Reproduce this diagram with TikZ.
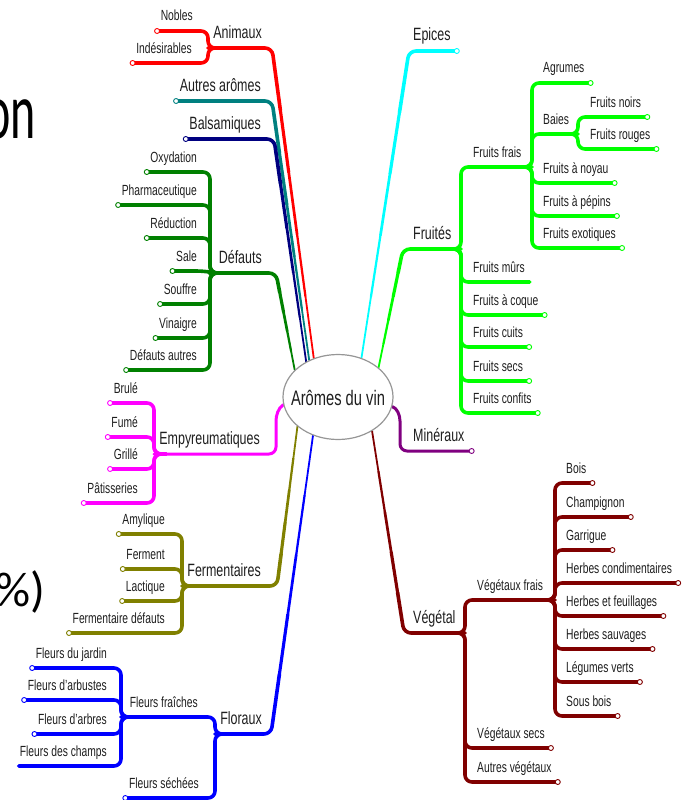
\documentclass[tikz,border=0pt]{standalone}
\usepackage{fontspec}
\setmainfont[FakeStretch=0.7]{Liberation Sans}
\newfontfamily\slidenarrow[FakeStretch=0.6]{Carlito}
\newfontfamily\slidefont{Carlito}
\usetikzlibrary{calc,shapes.geometric}
\pgfdeclarelayer{bg}
\pgfsetlayers{bg,main}

\definecolor{txt}{RGB}{30,30,30}
\definecolor{cRed}{RGB}{255,0,0}
\definecolor{cTeal}{RGB}{0,128,128}
\definecolor{cNavy}{RGB}{0,0,128}
\definecolor{cGreen}{RGB}{0,128,0}
\definecolor{cMag}{RGB}{255,0,255}
\definecolor{cOlive}{RGB}{128,128,0}
\definecolor{cBlue}{RGB}{0,0,255}
\definecolor{cMaroon}{RGB}{128,0,0}
\definecolor{cPurple}{RGB}{128,0,128}
\definecolor{cLime}{RGB}{0,255,0}
\definecolor{cCyan}{RGB}{0,255,255}
\definecolor{cEll}{RGB}{150,150,150}

\tikzset{
  mainlbl/.style={inner sep=0pt, text=txt, font=\fontsize{17.8}{20}\selectfont},
  leaflbl/.style={inner sep=0pt, text=txt, font=\fontsize{14.7}{17}\selectfont},
  knob/.style={circle, fill=white, inner sep=0pt, minimum size=5pt, line width=0.9pt},
  branchline/.style={line width=3.6pt, rounded corners=7pt, line cap=round, line join=round},
}

% left leaf with knob: name, colour, text, right x, line y, spine x, parent y
\newcommand\LLeaf[7]{%
  \node[leaflbl, anchor=base east] (#1) at (#4,{#5-10}) {#3};
  \coordinate (#1-e) at ($(#1.base west)+(-3.5,10)$);
  \begin{pgfonlayer}{bg}
    \draw[branchline, draw=#2] (#1-e) -- (#6,#5) -- (#6,#7) -- ({#6+12},#7);
  \end{pgfonlayer}
  \node[knob, draw=#2] (#1-k) at (#1-e) {};
}
\newcommand\LLeafN[7]{%
  \node[leaflbl, anchor=base east] (#1) at (#4,{#5-10}) {#3};
  \coordinate (#1-e) at ($(#1.base west)+(-1,10)$);
  \begin{pgfonlayer}{bg}
    \draw[branchline, draw=#2] (#1-e) -- (#6,#5) -- (#6,#7) -- ({#6+12},#7);
  \end{pgfonlayer}
}
% right leaf with knob: name, colour, text, left x, line y, spine x, parent y
\newcommand\RLeaf[7]{%
  \node[leaflbl, anchor=base west] (#1) at (#4,{#5-10}) {#3};
  \coordinate (#1-e) at ($(#1.base east)+(6,10)$);
  \begin{pgfonlayer}{bg}
    \draw[branchline, draw=#2] ({#6-12},#7) -- (#6,#7) -- (#6,#5) -- (#1-e);
  \end{pgfonlayer}
  \node[knob, draw=#2] (#1-k) at (#1-e) {};
}
\newcommand\RLeafN[7]{%
  \node[leaflbl, anchor=base west] (#1) at (#4,{#5-10}) {#3};
  \coordinate (#1-e) at ($(#1.base east)+(5,10)$);
  \begin{pgfonlayer}{bg}
    \draw[branchline, draw=#2] ({#6-12},#7) -- (#6,#7) -- (#6,#5) -- (#1-e);
  \end{pgfonlayer}
}
% tapered trunk: colour, start, corner, end
\newcommand\Trunk[4]{%
  \begin{pgfonlayer}{bg}
    \foreach \w/\ta/\tb in {1.8/0/0.2, 2.25/0.2/0.4, 2.7/0.4/0.6, 3.15/0.6/0.8}{
      \draw[draw=#1, line width=\w pt, line cap=round] ($(#2)!\ta!(#3)$) -- ($(#2)!\tb!(#3)$);
    }
    \draw[branchline, draw=#1] ($(#2)!0.8!(#3)$) -- (#3) -- (#4);
  \end{pgfonlayer}
}

\begin{document}
\begin{tikzpicture}[x=1pt, y=-1pt]
\useasboundingbox (0,0) rectangle (685,800);

% fragments of slide text
\node[inner sep=0pt, anchor=base east, font=\slidenarrow\fontsize{80}{90}\selectfont] (frag1) at (36,138) {on};
\node[inner sep=0pt, anchor=base east, font=\slidefont\fontsize{49}{55}\selectfont] (frag2) at (46,606) {\%)};

% centre
\node[ellipse, draw=cEll, fill=white, line width=1.2pt, minimum width=110pt, minimum height=85pt, inner sep=0pt] (c) at (338,397) {};
\node[inner sep=0pt, anchor=base, text=txt, font=\fontsize{21}{24}\selectfont] (ctext) at (c.center |- 0,405) {Arômes du vin};

% ---------- LEFT ----------
% Animaux
\node[mainlbl, anchor=base east] (anim) at (262,38) {Animaux};
\coordinate (anim-c) at (272,48);
\coordinate (anim-s) at (208,48);
\Trunk{cRed}{c.122}{anim-c}{anim-s}
\LLeaf{nob}{cRed}{Nobles}{193}{31}{208}{48}
\LLeaf{ind}{cRed}{Indésirables}{192}{63}{208}{48}

% Autres arômes
\node[mainlbl, anchor=base east] (autr) at (261,91) {Autres arômes};
\coordinate (autr-e) at ($(autr.base west)+(-3.5,10)$);
\coordinate (autr-c) at (272,101);
\Trunk{cTeal}{c.128}{autr-c}{autr-e}
\node[knob, draw=cTeal] (autr-k) at (autr-e) {};

% Balsamiques
\node[mainlbl, anchor=base east] (bals) at (261,129) {Balsamiques};
\coordinate (bals-e) at ($(bals.base west)+(-3.5,10)$);
\coordinate (bals-c) at (274,139);
\Trunk{cNavy}{c.132}{bals-c}{bals-e}
\node[knob, draw=cNavy] (bals-k) at (bals-e) {};

% Défauts
\node[mainlbl, anchor=base east] (defa) at (262,263) {Défauts};
\coordinate (defa-c) at (276,273);
\coordinate (defa-s) at (210,273);
\Trunk{cGreen}{c.148}{defa-c}{defa-s}
\LLeaf{oxy}{cGreen}{Oxydation}{197}{172}{210}{273}
\LLeaf{pha}{cGreen}{Pharmaceutique}{197}{205}{210}{273}
\LLeaf{redu}{cGreen}{Réduction}{197}{238}{210}{273}
\node[leaflbl, anchor=base east] (sal) at (197,261) {Sale};
\coordinate (sal-e) at ($(sal.base west)+(-3.5,10)$);
\begin{pgfonlayer}{bg}
  \draw[branchline, draw=cGreen] (sal-e) -- (203,271) -- (216,273) -- (defa-s);
\end{pgfonlayer}
\node[knob, draw=cGreen] (sal-k) at (sal-e) {};
\LLeaf{souf}{cGreen}{Souffre}{197}{304}{210}{273}
\LLeaf{vina}{cGreen}{Vinaigre}{197}{338}{210}{273}
\LLeaf{dau}{cGreen}{Défauts autres}{197}{370}{210}{273}

% Empyreumatiques
\node[mainlbl, anchor=base east] (empy) at (260,444) {Empyreumatiques};
\coordinate (empy-s) at (154,454);
\begin{pgfonlayer}{bg}
  \draw[branchline, draw=cMag, line width=3pt] (c.188) .. controls (278,408) and (276,416) .. (276,428) -- (276,454) -- (empy-s);
\end{pgfonlayer}
\LLeaf{bru}{cMag}{Brulé}{138}{403}{154}{454}
\LLeaf{fum}{cMag}{Fumé}{138}{437}{154}{454}
\LLeaf{gri}{cMag}{Grillé}{138}{469}{154}{454}
\LLeaf{pat}{cMag}{Pâtisseries}{138}{503}{154}{454}

% Fermentaires
\node[mainlbl, anchor=base east] (ferm) at (261,576) {Fermentaires};
\coordinate (ferm-c) at (277,586);
\coordinate (ferm-s) at (182,586);
\Trunk{cOlive}{c.216}{ferm-c}{ferm-s}
\LLeaf{amy}{cOlive}{Amylique}{165}{534}{182}{586}
\LLeaf{fer}{cOlive}{Ferment}{165}{569}{182}{586}
\LLeaf{lac}{cOlive}{Lactique}{165}{601}{182}{586}
\LLeaf{fde}{cOlive}{Fermentaire défauts}{165}{633}{182}{586}

% Floraux
\node[mainlbl, anchor=base east] (flor) at (262,724) {Floraux};
\coordinate (flor-c) at (271,734);
\coordinate (flor-s) at (215,734);
\Trunk{cBlue}{c.237}{flor-c}{flor-s}
\node[leaflbl, anchor=base east] (ffra) at (198,707) {Fleurs fraîches};
\coordinate (ffra-s) at (121,717);
\begin{pgfonlayer}{bg}
  \draw[branchline, draw=cBlue] (ffra-s) -- (215,717) -- (flor-s) -- (227,734);
\end{pgfonlayer}
\LLeaf{fja}{cBlue}{Fleurs du jardin}{107}{668}{121}{717}
\LLeaf{fab}{cBlue}{Fleurs d'arbustes}{107}{700}{121}{717}
\LLeaf{far}{cBlue}{Fleurs d'arbres}{107}{734}{121}{717}
\LLeafN{fch}{cBlue}{Fleurs des champs}{107}{766}{121}{717}
\LLeaf{fsec}{cBlue}{Fleurs séchées}{199}{798}{215}{734}

% ---------- RIGHT ----------
% Epices
\node[mainlbl, anchor=base west] (epic) at (413,41) {Epices};
\coordinate (epic-e) at ($(epic.base east)+(6,10)$);
\coordinate (epic-c) at (409,51);
\Trunk{cCyan}{c.59}{epic-c}{epic-e}
\node[knob, draw=cCyan] (epic-k) at (epic-e) {};

% Fruités
\node[mainlbl, anchor=base west] (frui) at (413,239) {Fruités};
\coordinate (frui-c) at (403,249);
\coordinate (frui-s) at (461,249);
\Trunk{cLime}{c.36}{frui-c}{frui-s}
\node[leaflbl, anchor=base west] (ffr) at (473,157) {Fruits frais};
\coordinate (ffr-s) at (532,167);
\begin{pgfonlayer}{bg}
  \draw[branchline, draw=cLime] (449,249) -- (frui-s) -- (461,167) -- (ffr-s);
\end{pgfonlayer}
\RLeaf{agr}{cLime}{Agrumes}{543}{83}{532}{167}
\node[leaflbl, anchor=base west] (bai) at (543,124) {Baies};
\coordinate (bai-s) at (578,134);
\begin{pgfonlayer}{bg}
  \draw[branchline, draw=cLime] (520,167) -- (ffr-s) -- (532,134) -- (bai-s);
\end{pgfonlayer}
\RLeaf{fno}{cLime}{Fruits noirs}{590}{117}{578}{134}
\RLeaf{fro}{cLime}{Fruits rouges}{590}{149}{578}{134}
\RLeaf{fny}{cLime}{Fruits à noyau}{543}{183}{532}{167}
\RLeaf{fpe}{cLime}{Fruits à pépins}{543}{216}{532}{167}
\RLeaf{fex}{cLime}{Fruits exotiques}{543}{248}{532}{167}
\RLeafN{fmu}{cLime}{Fruits mûrs}{473}{282}{461}{249}
\RLeaf{fco}{cLime}{Fruits à coque}{473}{315}{461}{249}
\RLeaf{fcu}{cLime}{Fruits cuits}{473}{347}{461}{249}
\RLeaf{fsc}{cLime}{Fruits secs}{473}{381}{461}{249}
\RLeaf{fcf}{cLime}{Fruits confits}{473}{413}{461}{249}

% Minéraux
\node[mainlbl, anchor=base west] (mine) at (413,441) {Minéraux};
\coordinate (mine-e) at ($(mine.base east)+(7,10)$);
\begin{pgfonlayer}{bg}
  \draw[branchline, draw=cPurple, line width=3pt] (c.350) .. controls (397,408) and (400,415) .. (400,428) -- (400,451) -- (mine-e);
\end{pgfonlayer}
\node[knob, draw=cPurple] (mine-k) at (mine-e) {};

% Végétal
\node[mainlbl, anchor=base west] (vege) at (413,623) {Végétal};
\coordinate (vege-c) at (404,633);
\coordinate (vege-s) at (465,633);
\Trunk{cMaroon}{c.315}{vege-c}{vege-s}
\node[leaflbl, anchor=base west] (vfr) at (477,590) {Végétaux frais};
\coordinate (vfr-s) at (555,600);
\begin{pgfonlayer}{bg}
  \draw[branchline, draw=cMaroon] (453,633) -- (vege-s) -- (465,600) -- (vfr-s);
\end{pgfonlayer}
\RLeaf{boi}{cMaroon}{Bois}{566}{483}{555}{600}
\RLeaf{cha}{cMaroon}{Champignon}{566}{517}{555}{600}
\RLeaf{gar}{cMaroon}{Garrigue}{566}{550}{555}{600}
\RLeaf{hco}{cMaroon}{Herbes condimentaires}{566}{583}{555}{600}
\RLeaf{hfe}{cMaroon}{Herbes et feuillages}{566}{616}{555}{600}
\RLeaf{hsa}{cMaroon}{Herbes sauvages}{566}{649}{555}{600}
\RLeaf{leg}{cMaroon}{Légumes verts}{566}{682}{555}{600}
\RLeaf{sbo}{cMaroon}{Sous bois}{566}{716}{555}{600}
\RLeaf{vse}{cMaroon}{Végétaux secs}{477}{748}{465}{633}
\RLeaf{avg}{cMaroon}{Autres végétaux}{477}{782}{465}{633}
\end{tikzpicture}
\end{document}
